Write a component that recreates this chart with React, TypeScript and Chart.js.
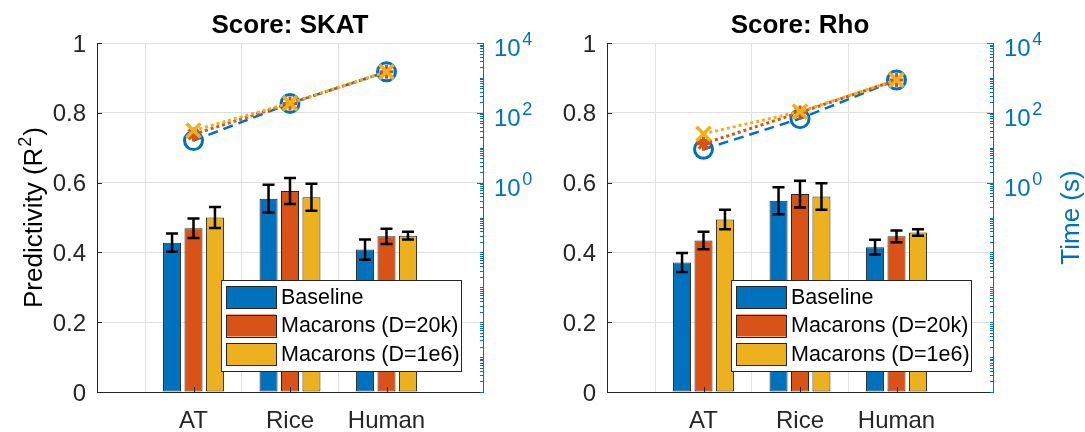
import React, { useEffect, useRef } from 'react';
import { Chart, registerables } from 'chart.js';

Chart.register(...registerables);

// ---------- data ----------
const categories = ['AT', 'Rice', 'Human'];
const seriesNames = ['Baseline', 'Macarons (D=20k)', 'Macarons (D=1e6)'];
const seriesColors = ['#0072BD', '#D95319', '#EDB120'];
const panelTitles = ['Score: SKAT', 'Score: Rho'];
const yAxisTitleMain = 'Predictivity (R';
const yAxisTitleSup = '2';
const yAxisTitleEnd = ')';
const timeAxisTitle = 'Time (s)';
const yTicks = [0, 0.2, 0.4, 0.6, 0.8, 1];
const timeTickExponents = [0, 2, 4];

// Score: SKAT — predictivity (bars) and std errors
const skatBaseline = [0.428, 0.554, 0.408];
const skatD20k = [0.469, 0.576, 0.446];
const skatD1e6 = [0.5, 0.558, 0.448];
const skatBaselineErr = [0.026, 0.04, 0.029];
const skatD20kErr = [0.028, 0.037, 0.022];
const skatD1e6Err = [0.03, 0.039, 0.011];
// Score: SKAT — time (s)
const skatTimeBaseline = [16, 186, 1490];
const skatTimeD20k = [24, 186, 1490];
const skatTimeD1e6 = [31, 190, 1490];

// Score: Rho — predictivity (bars) and std errors
const rhoBaseline = [0.371, 0.548, 0.415];
const rhoD20k = [0.434, 0.567, 0.446];
const rhoD1e6 = [0.494, 0.56, 0.457];
const rhoBaselineErr = [0.027, 0.039, 0.021];
const rhoD20kErr = [0.025, 0.038, 0.017];
const rhoD1e6Err = [0.028, 0.038, 0.009];
// Score: Rho — time (s)
const rhoTimeBaseline = [9, 68, 870];
const rhoTimeD20k = [13, 102, 870];
const rhoTimeD1e6 = [25, 108, 870];

// ---------- styling ----------
const FONT = "'Liberation Sans', Arial, Helvetica, sans-serif";
const AXIS_COLOR = '#262626';
const GRID_COLOR = '#dfdfdf';
const TIME_COLOR = '#0072BD';

Chart.defaults.font.family = FONT;

const xLabels = ['', ...categories, ''];
const pad = (arr: (number | null)[]) => [null, ...arr, null];

type PanelCfg = {
  title: string;
  bars: number[][];
  errs: number[][];
  times: number[][];
  showYTitle: boolean;
  showTimeTitle: boolean;
  leftWidth: number;
  rightWidth: number;
};

const lineStyles = [
  { dash: [10, 6], width: 2.5, pointStyle: 'circle', radius: 9, pbw: 3 },
  { dash: [3, 3], width: 3, pointStyle: 'star', radius: 7, pbw: 3 },
  { dash: [3, 3], width: 3, pointStyle: 'crossRot', radius: 10, pbw: 3.5 },
];

function buildConfig(cfg: PanelCfg): any {
  const lineDatasets = [2, 1, 0].map((s) => ({
    type: 'line',
    label: seriesNames[s] + ' time',
    data: pad(cfg.times[s]),
    yAxisID: 'y2',
    borderColor: seriesColors[s],
    borderWidth: lineStyles[s].width,
    borderDash: lineStyles[s].dash,
    pointStyle: lineStyles[s].pointStyle,
    pointRadius: lineStyles[s].radius,
    pointBorderWidth: lineStyles[s].pbw,
    pointBorderColor: seriesColors[s],
    pointBackgroundColor: 'rgba(0,0,0,0)',
    fill: false,
    tension: 0,
  }));
  const barDatasets = [0, 1, 2].map((s) => ({
    type: 'bar',
    label: seriesNames[s],
    data: pad(cfg.bars[s]),
    errors: pad(cfg.errs[s]),
    yAxisID: 'y',
    backgroundColor: seriesColors[s],
    borderColor: AXIS_COLOR,
    borderWidth: 1,
    borderSkipped: false,
    categoryPercentage: 0.667,
    barPercentage: 0.84,
  }));

  const titlePlugin = {
    id: 'panelTitle',
    afterDraw(chart: any) {
      const { ctx, chartArea } = chart;
      ctx.save();
      ctx.font = `bold 26px ${FONT}`;
      ctx.fillStyle = '#000';
      ctx.textAlign = 'center';
      ctx.textBaseline = 'alphabetic';
      ctx.fillText(cfg.title, (chartArea.left + chartArea.right) / 2, 33);

      if (cfg.showYTitle) {
        const cy = (chartArea.top + chartArea.bottom) / 2;
        ctx.translate(41.5, cy);
        ctx.rotate(-Math.PI / 2);
        ctx.textAlign = 'left';
        ctx.font = `26px ${FONT}`;
        const w1 = ctx.measureText(yAxisTitleMain).width;
        const w3 = ctx.measureText(yAxisTitleEnd).width;
        ctx.font = `18px ${FONT}`;
        const w2 = ctx.measureText(yAxisTitleSup).width;
        const total = w1 + w2 + w3 + 2;
        let x = -total / 2;
        ctx.font = `26px ${FONT}`;
        ctx.fillText(yAxisTitleMain, x, 0);
        x += w1 + 1;
        ctx.font = `18px ${FONT}`;
        ctx.fillText(yAxisTitleSup, x, -11);
        x += w2 + 1;
        ctx.font = `26px ${FONT}`;
        ctx.fillText(yAxisTitleEnd, x, 0);
      }
      ctx.restore();
    },
  };

  const errorBarPlugin = {
    id: 'errorBars',
    afterDatasetsDraw(chart: any) {
      const { ctx } = chart;
      const ys = chart.scales.y;
      ctx.save();
      ctx.strokeStyle = '#000';
      ctx.lineWidth = 2.5;
      chart.data.datasets.forEach((ds: any, di: number) => {
        if (ds.type !== 'bar') return;
        const meta = chart.getDatasetMeta(di);
        meta.data.forEach((el: any, i: number) => {
          const v = ds.data[i];
          const e = ds.errors[i];
          if (v == null || e == null) return;
          const x = el.x;
          const yt = ys.getPixelForValue(v + e);
          const yb = ys.getPixelForValue(v - e);
          const cap = 6;
          ctx.beginPath();
          ctx.moveTo(x, yt);
          ctx.lineTo(x, yb);
          ctx.moveTo(x - cap, yt);
          ctx.lineTo(x + cap, yt);
          ctx.moveTo(x - cap, yb);
          ctx.lineTo(x + cap, yb);
          ctx.stroke();
        });
      });
      ctx.restore();
    },
  };

  const decorPlugin = {
    id: 'axisDecor',
    afterDraw(chart: any) {
      const { ctx, chartArea: ca, scales } = chart;
      ctx.save();
      // inward ticks on left and bottom axes
      ctx.strokeStyle = AXIS_COLOR;
      ctx.lineWidth = 1;
      ctx.beginPath();
      yTicks.forEach((v) => {
        const p = Math.round(scales.y.getPixelForValue(v)) + 0.5;
        ctx.moveTo(ca.left, p);
        ctx.lineTo(ca.left + 5, p);
      });
      categories.forEach((_c, i) => {
        const px = Math.round(scales.x.getPixelForValue(i + 1)) + 0.5;
        ctx.moveTo(px, ca.bottom);
        ctx.lineTo(px, ca.bottom - 5);
      });
      ctx.stroke();

      // right (log) axis ticks
      const y2 = scales.y2;
      ctx.strokeStyle = TIME_COLOR;
      ctx.beginPath();
      for (let d = -6; d <= 4; d++) {
        for (let m = 1; m <= 9; m++) {
          const v = m * Math.pow(10, d);
          if (v > 1e4 * 1.0001) break;
          const p = Math.round(y2.getPixelForValue(v)) + 0.5;
          const len = m === 1 && timeTickExponents.includes(d) ? 6 : 3;
          ctx.moveTo(ca.right - len, p);
          ctx.lineTo(ca.right, p);
        }
      }
      ctx.stroke();

      // right axis labels 10^n
      ctx.fillStyle = TIME_COLOR;
      ctx.textAlign = 'left';
      ctx.textBaseline = 'alphabetic';
      timeTickExponents.forEach((ex) => {
        const p = y2.getPixelForValue(Math.pow(10, ex));
        const x = ca.right + 11;
        ctx.font = `24px ${FONT}`;
        ctx.fillText('10', x, p + 13);
        const w = ctx.measureText('10').width;
        ctx.font = `18px ${FONT}`;
        ctx.fillText(String(ex), x + w + 1.5, p + 2);
      });

      if (cfg.showTimeTitle) {
        ctx.save();
        ctx.translate(ca.right + 79, (ca.top + ca.bottom) / 2);
        ctx.rotate(-Math.PI / 2);
        ctx.font = `26px ${FONT}`;
        ctx.textAlign = 'center';
        ctx.textBaseline = 'middle';
        ctx.fillStyle = TIME_COLOR;
        ctx.fillText(timeAxisTitle, 0, 0);
        ctx.restore();
      }
      ctx.restore();
    },
  };

  const legendPlugin = {
    id: 'boxLegend',
    afterDraw(chart: any) {
      const { ctx, chartArea: ca } = chart;
      const bars = chart.data.datasets.filter((d: any) => d.type === 'bar');
      const w = 240;
      const h = 91;
      const right = ca.right - 22;
      const left = right - w;
      const top = ca.bottom - 21 - h;
      ctx.save();
      ctx.fillStyle = '#fff';
      ctx.fillRect(left, top, w, h);
      ctx.strokeStyle = AXIS_COLOR;
      ctx.lineWidth = 1;
      ctx.strokeRect(Math.round(left) + 0.5, Math.round(top) + 0.5, w, h);
      ctx.font = `21.5px ${FONT}`;
      ctx.textAlign = 'left';
      ctx.textBaseline = 'middle';
      bars.forEach((d: any, i: number) => {
        const cy = top + 17 + i * 28.5;
        ctx.fillStyle = d.backgroundColor;
        ctx.fillRect(left + 5, cy - 11, 50, 22);
        ctx.strokeStyle = AXIS_COLOR;
        ctx.strokeRect(Math.round(left + 5) + 0.5, Math.round(cy - 11) + 0.5, 50, 22);
        ctx.fillStyle = '#000';
        ctx.fillText(d.label, left + 60, cy + 1);
      });
      ctx.restore();
    },
  };

  return {
    type: 'bar',
    data: { labels: xLabels, datasets: [...lineDatasets, ...barDatasets] },
    options: {
      responsive: false,
      animation: false,
      events: [],
      layout: { padding: { top: 43, left: 0, right: 0, bottom: 0 } },
      plugins: {
        legend: { display: false },
        tooltip: { enabled: false },
        title: { display: false },
      },
      scales: {
        x: {
          type: 'category',
          offset: false,
          grid: {
            color: (c: any) =>
              c.index === 0 || c.index === xLabels.length - 1 ? 'rgba(0,0,0,0)' : GRID_COLOR,
            drawTicks: false,
            lineWidth: 1,
          },
          border: { display: true, color: AXIS_COLOR, width: 1 },
          ticks: {
            font: { size: 24, family: FONT },
            color: AXIS_COLOR,
            padding: 15,
            maxRotation: 0,
            autoSkip: false,
          },
          afterFit: (s: any) => {
            s.height = 40;
          },
        },
        y: {
          type: 'linear',
          position: 'left',
          min: 0,
          max: 1,
          afterBuildTicks: (s: any) => {
            s.ticks = yTicks.map((v) => ({ value: v }));
          },
          ticks: {
            font: { size: 24, family: FONT },
            color: AXIS_COLOR,
            padding: 11,
            labelOffset: 2,
            callback: (v: any) => String(Math.round(Number(v) * 10) / 10),
          },
          grid: { color: GRID_COLOR, drawTicks: false, lineWidth: 1 },
          border: { display: true, color: AXIS_COLOR, width: 1 },
          afterFit: (s: any) => {
            s.width = cfg.leftWidth;
          },
        },
        y2: {
          type: 'logarithmic',
          position: 'right',
          min: 1e-6,
          max: 1e4,
          ticks: { display: false },
          grid: { display: false, drawOnChartArea: false, drawTicks: false },
          border: { display: true, color: TIME_COLOR, width: 1 },
          afterFit: (s: any) => {
            s.width = cfg.rightWidth;
          },
        },
      },
    },
    plugins: [errorBarPlugin, decorPlugin, legendPlugin, titlePlugin],
  };
}

const panels: { cfg: PanelCfg; left: number; width: number }[] = [
  {
    left: 0,
    width: 545,
    cfg: {
      title: panelTitles[0],
      bars: [skatBaseline, skatD20k, skatD1e6],
      errs: [skatBaselineErr, skatD20kErr, skatD1e6Err],
      times: [skatTimeBaseline, skatTimeD20k, skatTimeD1e6],
      showYTitle: true,
      showTimeTitle: false,
      leftWidth: 97,
      rightWidth: 62,
    },
  },
  {
    left: 545,
    width: 540,
    cfg: {
      title: panelTitles[1],
      bars: [rhoBaseline, rhoD20k, rhoD1e6],
      errs: [rhoBaselineErr, rhoD20kErr, rhoD1e6Err],
      times: [rhoTimeBaseline, rhoTimeD20k, rhoTimeD1e6],
      showYTitle: false,
      showTimeTitle: true,
      leftWidth: 62,
      rightWidth: 92,
    },
  },
];

function Panel({ cfg, left, width }: { cfg: PanelCfg; left: number; width: number }) {
  const ref = useRef<HTMLCanvasElement>(null);
  useEffect(() => {
    const chart = new Chart(ref.current as HTMLCanvasElement, buildConfig(cfg));
    return () => chart.destroy();
  }, []);
  return (
    <canvas
      ref={ref}
      width={width}
      height={432}
      style={{ position: 'absolute', left, top: 0, width, height: 432 }}
    />
  );
}

export default function App() {
  return (
    <div
      style={{
        position: 'fixed',
        left: 0,
        top: 0,
        width: 1085,
        height: 432,
        background: '#fff',
        overflow: 'hidden',
      }}
    >
      {panels.map((p, i) => (
        <Panel key={i} cfg={p.cfg} left={p.left} width={p.width} />
      ))}
    </div>
  );
}
